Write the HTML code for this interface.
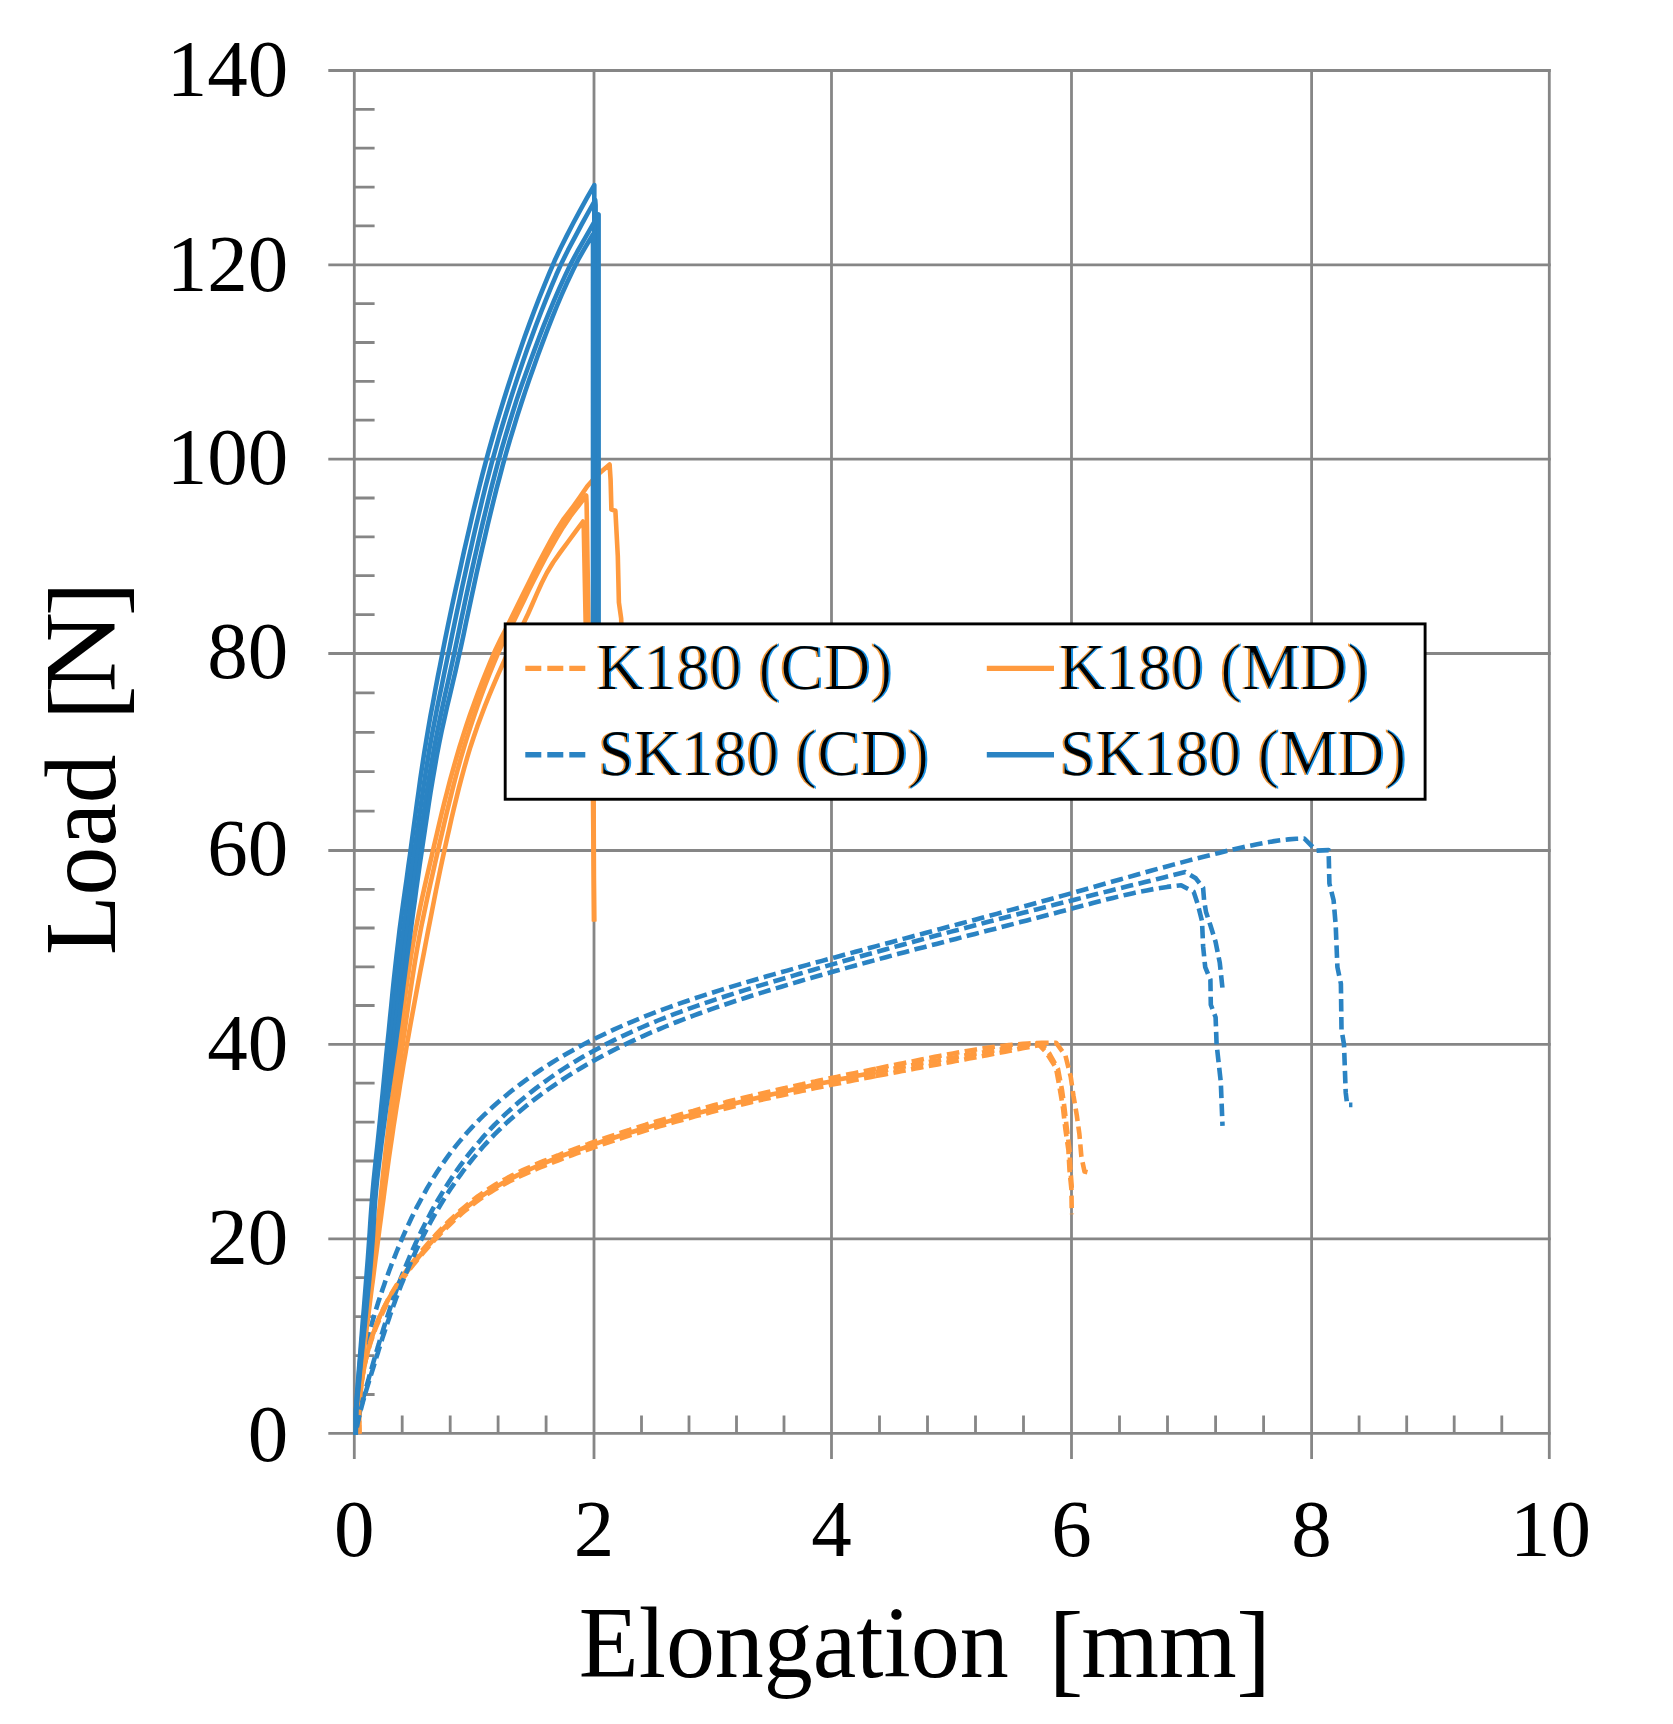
<!DOCTYPE html>
<html lang="en">
<head>
<meta charset="utf-8">
<title>Load vs Elongation</title>
<style>
html,body{margin:0;padding:0;background:#fff;}
body{width:1673px;height:1724px;overflow:hidden;}
svg{display:block;}
</style>
</head>
<body>
<svg width="1673" height="1724" viewBox="0 0 1673 1724">
<rect width="1673" height="1724" fill="#fff"/>
<defs><filter id="ct" x="-2%" y="-20%" width="104%" height="140%" color-interpolation-filters="sRGB"><feOffset in="SourceAlpha" dx="-1.2" result="l"/><feFlood flood-color="#f39532" result="oc"/><feComposite in="oc" in2="l" operator="in" result="lc"/><feOffset in="SourceAlpha" dx="1.2" result="r"/><feFlood flood-color="#1b93e6" result="bc"/><feComposite in="bc" in2="r" operator="in" result="rc"/><feMorphology in="SourceAlpha" operator="erode" radius="0.9 0" result="core"/><feMerge><feMergeNode in="lc"/><feMergeNode in="rc"/><feMergeNode in="core"/></feMerge></filter></defs>
<g stroke="#868686" stroke-width="2.8" fill="none">
<path d="M328.3 1433.4 H1550.7"/>
<path d="M328.3 1238.8 H1550.7"/>
<path d="M328.3 1044.3 H1550.7"/>
<path d="M328.3 850.5 H1550.7"/>
<path d="M328.3 653.5 H1550.7"/>
<path d="M328.3 459.1 H1550.7"/>
<path d="M328.3 264.8 H1550.7"/>
<path d="M328.3 70.5 H1550.7"/>
<path d="M354.3 69.1 V1459"/>
<path d="M594 69.1 V1459"/>
<path d="M831.5 69.1 V1459"/>
<path d="M1071.5 69.1 V1459"/>
<path d="M1311.6 69.1 V1459"/>
<path d="M1549.3 69.1 V1459"/>
<path d="M354.3 1394.5h20.3M354.3 1355.6h20.3M354.3 1316.6h20.3M354.3 1277.7h20.3M354.3 1199.9h20.3M354.3 1161h20.3M354.3 1122.1h20.3M354.3 1083.2h20.3M354.3 1005.5h20.3M354.3 966.8h20.3M354.3 928h20.3M354.3 889.3h20.3M354.3 811.1h20.3M354.3 771.7h20.3M354.3 732.3h20.3M354.3 692.9h20.3M354.3 614.6h20.3M354.3 575.7h20.3M354.3 536.9h20.3M354.3 498h20.3M354.3 420.2h20.3M354.3 381.4h20.3M354.3 342.5h20.3M354.3 303.7h20.3M354.3 225.9h20.3M354.3 187.1h20.3M354.3 148.2h20.3M354.3 109.4h20.3"/>
<path d="M402.2 1433.4v-18M450.2 1433.4v-18M498.1 1433.4v-18M546.1 1433.4v-18M641.5 1433.4v-18M689 1433.4v-18M736.5 1433.4v-18M784 1433.4v-18M879.5 1433.4v-18M927.5 1433.4v-18M975.5 1433.4v-18M1023.5 1433.4v-18M1119.5 1433.4v-18M1167.5 1433.4v-18M1215.6 1433.4v-18M1263.6 1433.4v-18M1359.1 1433.4v-18M1406.7 1433.4v-18M1454.2 1433.4v-18M1501.8 1433.4v-18"/>
</g>
<g fill="none" stroke-width="4.6" stroke-linejoin="round">
<path stroke="#ff9a3e" d="M359.4 1433.4L359.4 1432.7L359.3 1431.7L359.3 1430.5L359.3 1429.2L359.3 1427.8L359.2 1426.3L359.2 1424.7L359.2 1423L359.2 1421.3L359.2 1419.5L359.2 1417.7L359.3 1415.8L359.3 1413.9L359.4 1411.9L359.5 1409.8L359.5 1407.8L359.7 1405.7L359.8 1403.5L359.9 1401.4L360.1 1399.2L360.2 1396.9L360.4 1394.6L360.7 1392.3L360.9 1390L361.1 1387.7L361.4 1385.3L361.7 1382.9L362.1 1380.4L362.4 1378L362.8 1375.5L363.2 1373L363.6 1370.5L364.1 1368L364.6 1365.4L365.1 1362.9L365.7 1360.3L366.3 1357.7L366.9 1355.1L367.5 1352.5L368.2 1349.8L368.9 1347.2L369.7 1344.5L370.4 1341.9L371.3 1339.2L372.1 1336.5L373 1333.9L374 1331.2L374.9 1328.5L376 1325.8L377 1323.1L378.1 1320.4L379.3 1317.8L380.4 1315.1L381.7 1312.4L383 1309.7L384.3 1307L385.7 1304.4L387.1 1301.7L388.5 1299.1L390.1 1296.4L391.6 1293.8L393.3 1291.2L394.9 1288.6L396.6 1286L398.4 1283.4L400.2 1280.8L402.1 1278.2L404 1275.6L405.9 1273.1L407.9 1270.5L409.9 1267.9L411.9 1265.4L413.9 1262.8L416 1260.3L418.1 1257.7L420.3 1255.1L422.4 1252.5L424.6 1250L426.8 1247.4L429 1244.8L431.3 1242.2L433.5 1239.6L435.8 1237.1L438.1 1234.5L440.4 1231.9L442.8 1229.4L445.2 1226.9L447.7 1224.4L450.1 1222L452.6 1219.5L455.2 1217.1L457.7 1214.8L460.4 1212.5L463 1210.2L465.7 1207.9L468.5 1205.8L471.2 1203.6L474.1 1201.5L476.9 1199.4L479.8 1197.3L482.7 1195.3L485.7 1193.4L488.7 1191.4L491.7 1189.5L494.8 1187.7L497.9 1185.8L501 1184L504.2 1182.2L507.4 1180.5L510.6 1178.8L513.9 1177.1L517.2 1175.4L520.5 1173.8L523.8 1172.2L527.2 1170.6L530.6 1169L534 1167.5L537.4 1166L540.9 1164.5L544.4 1163L547.9 1161.6L551.4 1160.1L555 1158.7L558.5 1157.3L562.1 1155.9L565.7 1154.5L569.3 1153.1L572.9 1151.8L576.6 1150.4L580.2 1149.1L583.9 1147.8L587.6 1146.5L591.3 1145.2L595 1143.9L598.8 1142.7L602.5 1141.4L606.3 1140.2L610.1 1138.9L613.9 1137.7L617.7 1136.5L621.5 1135.3L625.3 1134.1L629.2 1132.9L633 1131.7L636.9 1130.5L640.8 1129.4L644.6 1128.2L648.5 1127.1L652.4 1125.9L656.3 1124.8L660.3 1123.6L664.2 1122.5L668.1 1121.4L672.1 1120.3L676 1119.2L680 1118.1L684 1116.9L687.9 1115.9L691.9 1114.8L695.9 1113.7L699.9 1112.6L703.9 1111.5L708 1110.5L712 1109.4L716 1108.3L720.1 1107.3L724.1 1106.2L728.2 1105.2L732.3 1104.2L736.4 1103.1L740.5 1102.1L744.6 1101.1L748.7 1100.1L752.8 1099.1L756.9 1098.1L761.1 1097.1L765.2 1096.1L769.3 1095.1L773.5 1094.1L777.7 1093.2L781.8 1092.2L786 1091.2L790.2 1090.3L794.4 1089.3L798.6 1088.4L802.8 1087.4L807.1 1086.5L811.3 1085.5L815.5 1084.6L819.8 1083.7L824.1 1082.8L828.3 1081.9L832.6 1081L836.9 1080L841.2 1079.1L845.5 1078.2L849.8 1077.4L854.1 1076.5L858.4 1075.6L862.7 1074.7L867.1 1073.8L871.4 1073L875.8 1072.1"/>
<path stroke="#ff9a3e" stroke-dasharray="12.5 5.5" stroke-dashoffset="0" d="M875.8 1072.1L880.1 1071.2L884.5 1070.4L888.9 1069.5L893.3 1068.7L897.6 1067.8L902 1067L906.4 1066.2L910.9 1065.3L915.3 1064.5L919.7 1063.7L924.2 1062.9L928.6 1062L933.1 1061.2L937.5 1060.4L942 1059.6L946.5 1058.8L950.9 1058L955.4 1057.2L959.9 1056.4L964.4 1055.6L969 1054.8L973.5 1054L978 1053.3L982.6 1052.5L987.1 1051.7L991.7 1050.9L996.2 1050.1L1000.8 1049.4L1005.4 1048.6L1009.9 1047.8L1014.5 1047.1L1019.1 1046.3L1023.7 1045.6L1028.4 1044.8L1033 1044.1L1037.6 1043.3L1046 1052L1056 1068L1060 1090L1063 1108L1065.5 1130L1068.4 1150L1069.5 1170L1071.4 1189L1071.8 1214.2"/>
<path stroke="#ff9a3e" d="M355.7 1433.4L355.9 1422.5L356.2 1411.6L357.1 1400.7L358.4 1389.8L359.6 1379L360.8 1368.1L362.1 1357.2L363.3 1346.3L364.6 1335.4L365.9 1324.5L367.3 1313.6L368.6 1302.7L369.9 1291.9L371.2 1281L372.6 1270.1L373.9 1259.2L375.1 1248.3L376.4 1237.4L377.6 1226.5L378.7 1215.6L379.9 1204.8L381 1193.9L382.2 1183L383.3 1172.1L384.5 1161.2L385.7 1150.3L387 1139.4L388.3 1128.5L389.6 1117.7L390.9 1106.8L392.3 1095.9L393.7 1085L395.1 1074.1L396.5 1063.2L397.9 1052.3L399.4 1041.4L400.8 1030.6L402.2 1019.7L403.6 1008.8L405 997.9L406.5 987L408 976.1L409.6 965.2L411.3 954.3L413.1 943.5L415.1 932.6L417.2 921.7L419.4 910.8L421.7 899.9L424.1 889L426.6 878.1L429.1 867.2L431.6 856.4L434.1 845.5L436.7 834.6L439.2 823.7L441.8 812.8L444.5 801.9L447.3 791L450.1 780.1L453.1 769.3L456.2 758.4L459.4 747.5L462.8 736.6L466.3 725.7L470 714.8L473.9 703.9L477.9 693L482 682.2L486.4 671.3L490.9 660.4L495.6 649.5L500.9 638.6L506.5 627.7L511.9 616.8L517.2 605.9L522.6 595.1L528 584.2L533.4 573.3L539 562.4L544.7 551.5L550.6 540.6L556.8 529.7L563.8 518.8L572.1 508L579.9 497.1L587.3 486.2L597 475.3L609.6 464.4L610.6 480L611.4 509.6L615.4 510.8L617.8 556L618.9 602.5L621.2 618.7L621.5 640"/>
<path stroke="#2a83c3" stroke-dasharray="12.5 5.5" stroke-dashoffset="0" d="M355.7 1433.4L355.7 1432.1L355.7 1430.2L355.8 1428.1L355.8 1425.7L355.9 1423.1L356 1420.3L356.1 1417.4L356.3 1414.4L356.5 1411.3L356.7 1408L356.9 1404.7L357.2 1401.3L357.6 1397.9L357.9 1394.3L358.3 1390.7L358.8 1387L359.3 1383.3L359.8 1379.5L360.4 1375.6L361.1 1371.7L361.8 1367.7L362.5 1363.7L363.3 1359.6L364.1 1355.5L365 1351.4L365.9 1347.2L366.9 1343L367.9 1338.7L369 1334.4L370.1 1330.1L371.3 1325.7L372.5 1321.3L373.8 1316.8L375.1 1312.4L376.5 1307.9L377.9 1303.3L379.4 1298.8L380.9 1294.2L382.5 1289.5L384.1 1284.9L385.7 1280.2L387.5 1275.5L389.2 1270.7L391 1266L392.9 1261.2L394.8 1256.3L396.7 1251.5L398.7 1246.7L400.7 1241.8L402.8 1236.9L405 1232L407.2 1227.1L409.5 1222.2L411.8 1217.3L414.2 1212.4L416.7 1207.4L419.3 1202.6L421.9 1197.7L424.6 1192.8L427.3 1187.9L430.2 1183.1L433.1 1178.3L436.1 1173.5L439.2 1168.7L442.4 1164L445.7 1159.4L449.1 1154.7L452.6 1150.1L456.1 1145.6L459.8 1141.1L463.6 1136.6L467.4 1132.2L471.4 1127.9L475.5 1123.6L479.6 1119.4L483.9 1115.2L488.2 1111.1L492.6 1107L497.1 1103L501.7 1099.1L506.4 1095.2L511.1 1091.3L515.9 1087.5L520.8 1083.8L525.8 1080.1L530.8 1076.5L536 1073L541.1 1069.5L546.4 1066.1L551.7 1062.7L557.1 1059.4L562.5 1056.2L568 1053L573.5 1049.9L579.1 1046.8L584.7 1043.8L590.4 1040.9L596.2 1038L602 1035.2L607.8 1032.4L613.7 1029.7L619.6 1027L625.6 1024.4L631.7 1021.8L637.7 1019.3L643.9 1016.8L650 1014.4L656.2 1012L662.5 1009.7L668.8 1007.4L675.1 1005.1L681.4 1002.9L687.8 1000.7L694.2 998.5L700.7 996.4L707.2 994.2L713.7 992.2L720.3 990.1L726.8 988.1L733.4 986.1L740.1 984.1L746.7 982.1L753.4 980.2L760.1 978.2L766.8 976.3L773.5 974.4L780.3 972.5L787.1 970.6L793.8 968.7L800.6 966.8L807.4 964.9L814.2 963L821.1 961.1L827.9 959.2L834.8 957.4L841.7 955.5L848.6 953.6L855.5 951.7L862.4 949.9L869.3 948L876.3 946.1L883.3 944.2L890.2 942.4L897.2 940.5L904.2 938.6L911.3 936.7L918.3 934.9L925.3 933L932.4 931.1L939.5 929.2L946.6 927.3L953.7 925.4L960.8 923.5L967.9 921.6L975.1 919.7L982.2 917.7L989.4 915.8L996.6 913.9L1003.8 911.9L1011 909.9L1018.2 908L1025.5 906L1032.7 904L1040 902L1047.3 900L1054.6 898L1061.9 895.9L1069.2 893.9L1076.6 891.8L1083.9 889.7L1091.3 887.6L1098.7 885.5L1106.1 883.4L1113.5 881.3L1120.9 879.2L1128.4 877.1L1135.8 875L1143.3 872.9L1150.8 870.8L1158.3 868.7L1165.8 866.7L1173.3 864.6L1180.9 862.6L1188.4 860.6L1196 858.6L1203.6 856.7L1211.2 854.8L1218.8 852.9L1226.4 851L1234.1 849.2L1241.8 847.5L1249.4 845.8L1257.2 844.2L1264.9 842.7L1272.7 841.4L1280.5 840.3L1288.4 839.4L1296.3 838.8L1304.3 838.5L1310.6 844.9L1316.2 850.6L1328.6 850.1L1329.4 883.5L1333.6 900.3L1335.7 925.3L1337.4 967.1L1340.9 983.8L1341.5 1029.7L1344 1044.4L1345.7 1092.4L1347.2 1104.9L1352.4 1104.9"/>
<path stroke="#2a83c3" d="M355.6 1434.6L355.7 1422L356 1409.4L356.9 1396.7L357.8 1384.1L358.8 1371.5L359.8 1358.9L360.8 1346.3L361.8 1333.6L362.8 1321L363.9 1308.4L364.9 1295.8L365.9 1283.1L366.9 1270.5L367.9 1257.9L368.8 1245.3L369.7 1232.7L370.5 1220L371.4 1207.4L372.4 1194.8L373.5 1182.2L374.8 1169.6L376.1 1156.9L377.5 1144.3L378.8 1131.7L380.1 1119.1L381.3 1106.4L382.6 1093.8L383.8 1081.2L385 1068.6L386.2 1056L387.5 1043.3L388.8 1030.7L390 1018.1L391.3 1005.5L392.5 992.9L393.8 980.2L395.2 967.6L396.6 955L398.1 942.4L399.6 929.8L401.3 917.1L403 904.5L404.8 891.9L406.6 879.3L408.3 866.6L410.1 854L411.8 841.4L413.5 828.8L415.2 816.2L416.9 803.5L418.7 790.9L420.4 778.3L422.3 765.7L424.2 753.1L426.3 740.4L428.4 727.8L430.6 715.2L433 702.6L435.3 689.9L437.7 677.3L440.2 664.7L442.6 652.1L445.1 639.5L447.7 626.8L450.3 614.2L453 601.6L455.7 589L458.5 576.4L461.3 563.7L464.1 551.1L467 538.5L469.9 525.9L472.8 513.3L475.9 500.6L479 488L482.2 475.4L485.5 462.8L488.9 450.1L492.5 437.5L496.1 424.9L499.9 412.3L503.8 399.7L507.8 387L511.9 374.4L516.1 361.8L520.4 349.2L524.8 336.6L529.4 323.9L534.1 311.3L538.9 298.7L544 286.1L549.2 273.4L554.6 260.8L560.5 248.2L566.8 235.6L573.3 223L580.1 210.3L587.1 197.7L594.3 185.1L594.3 190.1L594.3 700"/>
<path stroke="#ff9a3e" stroke-dasharray="12.5 5.5" stroke-dashoffset="4" d="M359.4 1433.6L359.4 1432.9L359.3 1431.9L359.2 1430.6L359.2 1429.3L359.1 1427.8L359.1 1426.3L359 1424.7L359 1423L359 1421.3L358.9 1419.5L358.9 1417.6L359 1415.7L359 1413.7L359 1411.7L359.1 1409.7L359.2 1407.6L359.3 1405.5L359.4 1403.3L359.5 1401.2L359.7 1398.9L359.8 1396.7L360 1394.4L360.3 1392.1L360.5 1389.8L360.8 1387.4L361.1 1385.1L361.4 1382.6L361.8 1380.2L362.2 1377.8L362.6 1375.3L363 1372.8L363.5 1370.3L364 1367.8L364.5 1365.3L365.1 1362.7L365.7 1360.2L366.3 1357.6L367 1355L367.7 1352.4L368.4 1349.8L369.2 1347.2L370 1344.6L370.8 1341.9L371.7 1339.3L372.6 1336.7L373.5 1334L374.5 1331.3L375.5 1328.7L376.6 1326L377.7 1323.3L378.9 1320.7L380.1 1318L381.3 1315.3L382.6 1312.7L383.9 1310L385.2 1307.3L386.6 1304.6L388.1 1302L389.6 1299.3L391.1 1296.7L392.7 1294L394.3 1291.4L396 1288.8L397.7 1286.1L399.4 1283.5L401.2 1280.9L403.1 1278.3L405 1275.7L406.9 1273.1L408.8 1270.5L410.8 1267.9L412.8 1265.3L414.9 1262.7L417 1260.2L419.1 1257.6L421.3 1255L423.4 1252.5L425.7 1249.9L427.9 1247.4L430.2 1244.9L432.5 1242.3L434.8 1239.8L437.2 1237.3L439.5 1234.8L441.9 1232.3L444.4 1229.9L446.8 1227.4L449.3 1225L451.9 1222.6L454.4 1220.2L457 1217.8L459.6 1215.4L462.3 1213.1L465 1210.8L467.7 1208.6L470.4 1206.4L473.2 1204.2L476.1 1202L478.9 1199.9L481.8 1197.9L484.8 1195.9L487.8 1193.9L490.8 1192L493.9 1190.1L497 1188.3L500.1 1186.5L503.3 1184.7L506.5 1183L509.7 1181.3L513 1179.7L516.3 1178L519.6 1176.4L523 1174.9L526.4 1173.3L529.8 1171.8L533.2 1170.4L536.7 1168.9L540.2 1167.4L543.7 1166L547.2 1164.6L550.8 1163.2L554.3 1161.8L557.9 1160.5L561.5 1159.1L565.1 1157.8L568.7 1156.4L572.3 1155.1L576 1153.7L579.7 1152.4L583.3 1151.1L587 1149.8L590.7 1148.5L594.4 1147.2L598.2 1145.9L601.9 1144.6L605.6 1143.4L609.4 1142.1L613.2 1140.9L617 1139.6L620.8 1138.4L624.6 1137.1L628.4 1135.9L632.2 1134.7L636.1 1133.5L640 1132.3L643.8 1131.1L647.7 1129.9L651.6 1128.8L655.5 1127.6L659.4 1126.4L663.4 1125.3L667.3 1124.1L671.2 1123L675.2 1121.9L679.2 1120.8L683.2 1119.7L687.1 1118.6L691.1 1117.5L695.1 1116.4L699.2 1115.3L703.2 1114.2L707.2 1113.2L711.3 1112.1L715.3 1111.1L719.4 1110L723.5 1109L727.6 1108L731.7 1107L735.8 1106L739.9 1105L744 1104L748.1 1103L752.2 1102L756.4 1101.1L760.5 1100.1L764.7 1099.1L768.9 1098.2L773 1097.3L777.2 1096.3L781.4 1095.4L785.6 1094.5L789.8 1093.5L794.1 1092.6L798.3 1091.7L802.5 1090.8L806.8 1089.9L811 1089L815.3 1088.1L819.5 1087.3L823.8 1086.4L828.1 1085.5L832.4 1084.6L836.7 1083.8L841 1082.9L845.3 1082L849.6 1081.2L854 1080.3L858.3 1079.5L862.6 1078.6L867 1077.8L871.3 1076.9L875.7 1076.1"/>
<path stroke="#ff9a3e" stroke-dasharray="12.5 5.5" stroke-dashoffset="0" d="M875.7 1076.1L880.1 1075.3L884.5 1074.4L888.9 1073.6L893.2 1072.8L897.6 1071.9L902.1 1071.1L906.5 1070.3L910.9 1069.4L915.3 1068.6L919.8 1067.8L924.2 1066.9L928.7 1066.1L933.1 1065.3L937.6 1064.4L942.1 1063.6L946.5 1062.8L951 1061.9L955.5 1061.1L960 1060.3L964.5 1059.4L969 1058.6L973.5 1057.7L978.1 1056.9L982.6 1056L987.1 1055.2L991.7 1054.3L996.2 1053.4L1000.8 1052.6L1005.3 1051.7L1009.9 1050.8L1014.5 1049.9L1019 1049L1023.6 1048.1L1028.2 1047.2L1032.8 1046.3L1037.4 1045.4L1042 1044.5L1049 1053L1058 1069L1062 1090L1064.5 1108L1067 1130L1069.5 1150L1070.5 1170L1071.6 1185L1072 1192"/>
<path stroke="#ff9a3e" d="M355.8 1433.4L356 1422.9L356.4 1412.3L357.3 1401.8L358.6 1391.2L359.7 1380.7L361 1370.2L362.2 1359.6L363.5 1349.1L364.7 1338.6L366.1 1328L367.4 1317.5L368.7 1306.9L370 1296.4L371.4 1285.9L372.7 1275.3L374 1264.8L375.3 1254.3L376.6 1243.7L377.9 1233.2L379.1 1222.6L380.4 1212.1L381.6 1201.6L382.8 1191L384 1180.5L385.3 1169.9L386.6 1159.4L387.9 1148.9L389.2 1138.3L390.6 1127.8L392.1 1117.3L393.5 1106.7L395 1096.2L396.5 1085.6L398.1 1075.1L399.6 1064.6L401.2 1054L402.7 1043.5L404.3 1032.9L405.8 1022.4L407.3 1011.9L408.8 1001.3L410.4 990.8L412 980.3L413.7 969.7L415.4 959.2L417.2 948.6L419.1 938.1L421.1 927.6L423.3 917L425.5 906.5L427.7 896L430 885.4L432.4 874.9L434.8 864.3L437.2 853.8L439.6 843.3L442.1 832.7L444.5 822.2L447 811.6L449.6 801.1L452.2 790.6L454.9 780L457.7 769.5L460.6 759L463.7 748.4L466.9 737.9L470.3 727.3L473.8 716.8L477.4 706.3L481.2 695.7L485.1 685.2L489.2 674.6L493.5 664.1L497.9 653.6L502.7 643L508 632.5L513.4 622L518.5 611.4L523.7 600.9L528.8 590.3L534.1 579.8L539.5 569.3L545 558.7L550.8 548.2L556.8 537.7L563.1 527.1L570.1 516.6L578.2 506L586.2 495.5L586.6 503L588.4 620L593.6 798L594.1 921.5"/>
<path stroke="#2a83c3" stroke-dasharray="12.5 5.5" stroke-dashoffset="6" d="M355.7 1433.4L355.9 1432.3L356.1 1430.7L356.4 1428.9L356.8 1426.8L357.2 1424.6L357.6 1422.2L358.1 1419.8L358.7 1417.2L359.3 1414.5L359.9 1411.8L360.6 1409L361.3 1406L362 1403.1L362.8 1400L363.6 1396.9L364.5 1393.7L365.3 1390.5L366.3 1387.2L367.2 1383.9L368.2 1380.5L369.1 1377L370.1 1373.5L371.2 1370L372.2 1366.4L373.2 1362.8L374.3 1359.1L375.4 1355.4L376.5 1351.6L377.6 1347.8L378.8 1344L379.9 1340.1L381.1 1336.2L382.4 1332.2L383.6 1328.3L384.9 1324.3L386.2 1320.2L387.5 1316.2L388.8 1312.1L390.2 1307.9L391.6 1303.8L393.1 1299.6L394.6 1295.4L396.1 1291.2L397.6 1287L399.2 1282.7L400.8 1278.4L402.5 1274.1L404.2 1269.8L406 1265.5L407.8 1261.2L409.6 1256.8L411.5 1252.5L413.4 1248.1L415.4 1243.8L417.4 1239.4L419.5 1235L421.6 1230.6L423.8 1226.2L426 1221.9L428.3 1217.5L430.6 1213.1L433 1208.7L435.4 1204.4L437.9 1200L440.5 1195.7L443.1 1191.4L445.8 1187L448.5 1182.7L451.3 1178.4L454.2 1174.2L457.2 1169.9L460.2 1165.7L463.3 1161.5L466.4 1157.3L469.6 1153.1L473 1149L476.3 1144.9L479.8 1140.9L483.3 1136.8L486.9 1132.8L490.6 1128.9L494.4 1124.9L498.3 1121.1L502.2 1117.2L506.2 1113.4L510.3 1109.7L514.4 1106L518.6 1102.3L522.9 1098.7L527.3 1095.1L531.7 1091.6L536.1 1088.1L540.7 1084.7L545.3 1081.3L549.9 1078L554.6 1074.7L559.3 1071.5L564.1 1068.4L569 1065.3L573.9 1062.2L578.8 1059.3L583.8 1056.3L588.8 1053.5L593.9 1050.7L599 1047.9L604.1 1045.2L609.3 1042.5L614.6 1039.9L619.9 1037.3L625.2 1034.8L630.6 1032.3L636 1029.9L641.4 1027.5L646.9 1025.1L652.4 1022.8L657.9 1020.5L663.5 1018.3L669.2 1016.1L674.8 1013.9L680.5 1011.8L686.2 1009.7L692 1007.6L697.7 1005.6L703.5 1003.6L709.4 1001.6L715.2 999.6L721.1 997.7L727.1 995.8L733 993.9L739 992L744.9 990.1L750.9 988.3L757 986.4L763 984.6L769.1 982.8L775.2 981L781.3 979.2L787.4 977.4L793.5 975.6L799.6 973.8L805.8 972L812 970.2L818.1 968.4L824.3 966.6L830.5 964.9L836.8 963.1L843 961.3L849.3 959.5L855.5 957.8L861.8 956L868.1 954.2L874.4 952.5L880.8 950.7L887.1 949L893.4 947.2L899.8 945.5L906.2 943.8L912.6 942L919 940.3L925.4 938.5L931.8 936.8L938.3 935.1L944.7 933.4L951.2 931.6L957.7 929.9L964.2 928.2L970.7 926.5L977.2 924.8L983.7 923L990.3 921.3L996.9 919.6L1003.4 917.9L1010 916.2L1016.6 914.5L1023.2 912.8L1029.8 911.1L1036.5 909.4L1043.1 907.7L1049.8 906L1056.4 904.3L1063.1 902.6L1069.8 900.9L1076.5 899.2L1083.2 897.5L1090 895.8L1096.7 894.1L1103.4 892.4L1110.2 890.7L1117 889L1123.8 887.3L1130.6 885.6L1137.4 884L1144.2 882.3L1151 880.6L1157.8 878.9L1164.7 877.2L1171.5 875.5L1178.4 873.8L1185.3 872.1L1195.8 878.3L1203.1 887.7L1204.1 900.3L1206 912L1210.4 925.3L1215.6 942L1219.8 962.9L1222.9 992.2"/>
<path stroke="#2a83c3" d="M355.7 1434.6L355.8 1422.1L356.1 1409.7L357 1397.2L358.1 1384.7L359.1 1372.2L360.2 1359.8L361.3 1347.3L362.4 1334.8L363.5 1322.4L364.6 1309.9L365.7 1297.4L366.8 1285L367.9 1272.5L368.9 1260L369.8 1247.5L370.8 1235.1L371.5 1222.6L372.3 1210.1L373.3 1197.7L374.4 1185.2L375.7 1172.7L377 1160.2L378.5 1147.8L379.9 1135.3L381.3 1122.8L382.7 1110.4L384.1 1097.9L385.5 1085.4L387 1072.9L388.4 1060.5L389.8 1048L391.3 1035.5L392.7 1023.1L394 1010.6L395.4 998.1L396.8 985.7L398.2 973.2L399.7 960.7L401.2 948.2L402.8 935.8L404.4 923.3L406.1 910.8L407.8 898.4L409.5 885.9L411.3 873.4L413 860.9L414.8 848.5L416.6 836L418.3 823.5L420 811.1L421.8 798.6L423.6 786.1L425.5 773.7L427.5 761.2L429.5 748.7L431.7 736.2L434.1 723.8L436.5 711.3L439 698.8L441.6 686.4L444.1 673.9L446.7 661.4L449.3 648.9L451.8 636.5L454.4 624L457 611.5L459.7 599.1L462.3 586.6L465.1 574.1L467.8 561.7L470.7 549.2L473.5 536.7L476.4 524.2L479.4 511.8L482.4 499.3L485.5 486.8L488.7 474.4L492 461.9L495.5 449.4L499 436.9L502.7 424.5L506.5 412L510.4 399.5L514.4 387.1L518.5 374.6L522.8 362.1L527.1 349.6L531.6 337.2L536.2 324.7L541 312.2L545.9 299.8L551 287.3L556.3 274.8L561.9 262.4L568.1 249.9L574.8 237.4L581.4 224.9L588.2 212.5L595.2 200L595.6 205L595.6 700"/>
<path stroke="#ff9a3e" stroke-dasharray="12.5 5.5" stroke-dashoffset="0" d="M359.4 1433.2L359.4 1432.5L359.3 1431.4L359.3 1430.2L359.3 1428.9L359.2 1427.4L359.2 1425.9L359.2 1424.2L359.2 1422.5L359.2 1420.8L359.2 1418.9L359.2 1417.1L359.2 1415.1L359.3 1413.1L359.3 1411.1L359.4 1409L359.5 1406.9L359.6 1404.8L359.7 1402.6L359.9 1400.3L360 1398.1L360.2 1395.8L360.4 1393.4L360.6 1391.1L360.9 1388.7L361.1 1386.3L361.4 1383.8L361.7 1381.4L362.1 1378.9L362.4 1376.4L362.8 1373.9L363.3 1371.3L363.7 1368.7L364.2 1366.2L364.7 1363.6L365.3 1360.9L365.9 1358.3L366.5 1355.7L367.1 1353L367.8 1350.3L368.5 1347.7L369.3 1345L370.1 1342.3L370.9 1339.6L371.8 1336.9L372.7 1334.2L373.7 1331.5L374.7 1328.8L375.7 1326L376.8 1323.3L378 1320.6L379.1 1317.9L380.3 1315.1L381.6 1312.4L382.9 1309.7L384.2 1307L385.6 1304.2L387 1301.5L388.5 1298.8L390 1296.1L391.6 1293.4L393.2 1290.6L394.8 1287.9L396.5 1285.2L398.2 1282.5L400 1279.9L401.8 1277.2L403.7 1274.5L405.6 1271.8L407.5 1269.1L409.5 1266.5L411.5 1263.8L413.5 1261.2L415.6 1258.5L417.7 1255.9L419.8 1253.2L422 1250.6L424.2 1248L426.5 1245.3L428.7 1242.7L431 1240.1L433.4 1237.5L435.7 1234.9L438.1 1232.4L440.5 1229.8L443 1227.3L445.4 1224.7L447.9 1222.2L450.5 1219.7L453 1217.3L455.6 1214.8L458.3 1212.4L460.9 1210L463.7 1207.7L466.4 1205.4L469.2 1203.1L472 1200.8L474.9 1198.6L477.7 1196.4L480.7 1194.3L483.7 1192.2L486.7 1190.2L489.7 1188.2L492.8 1186.3L496 1184.3L499.1 1182.5L502.3 1180.7L505.6 1178.9L508.9 1177.1L512.2 1175.4L515.5 1173.7L518.9 1172.1L522.3 1170.4L525.7 1168.8L529.2 1167.3L532.7 1165.7L536.2 1164.2L539.7 1162.7L543.3 1161.2L546.8 1159.8L550.4 1158.3L554.1 1156.9L557.7 1155.5L561.3 1154L565 1152.6L568.7 1151.2L572.4 1149.8L576.1 1148.5L579.8 1147.1L583.5 1145.7L587.3 1144.4L591 1143L594.8 1141.7L598.6 1140.3L602.4 1139L606.2 1137.7L610 1136.4L613.9 1135.1L617.7 1133.8L621.6 1132.5L625.5 1131.2L629.4 1130L633.3 1128.7L637.2 1127.4L641.1 1126.2L645.1 1125L649 1123.7L653 1122.5L657 1121.3L660.9 1120.1L664.9 1118.9L669 1117.8L673 1116.6L677 1115.4L681 1114.3L685.1 1113.1L689.1 1112L693.2 1110.9L697.3 1109.7L701.4 1108.6L705.5 1107.5L709.6 1106.4L713.7 1105.3L717.8 1104.3L722 1103.2L726.1 1102.1L730.2 1101.1L734.4 1100L738.6 1099L742.7 1098L746.9 1097L751.1 1096L755.3 1094.9L759.5 1093.9L763.7 1093L768 1092L772.2 1091L776.4 1090L780.7 1089L785 1088.1L789.2 1087.1L793.5 1086.2L797.8 1085.2L802.1 1084.3L806.4 1083.3L810.7 1082.4L815 1081.5L819.3 1080.5L823.7 1079.6L828 1078.7L832.4 1077.8L836.7 1076.9L841.1 1075.9L845.5 1075L849.9 1074.1L854.3 1073.2L858.7 1072.3L863.1 1071.4L867.5 1070.5L871.9 1069.6L876.4 1068.7"/>
<path stroke="#ff9a3e" stroke-dasharray="12.5 5.5" stroke-dashoffset="0" d="M876.4 1068.7L880.8 1067.8L885.3 1066.8L889.7 1065.9L894.2 1065L898.7 1064.1L903.2 1063.2L907.7 1062.3L912.2 1061.4L916.7 1060.4L921.2 1059.5L925.8 1058.6L930.3 1057.7L934.8 1056.8L939.4 1055.9L944 1055.1L948.5 1054.2L953.1 1053.4L957.7 1052.5L962.3 1051.7L966.9 1050.9L971.5 1050.2L976.2 1049.4L980.8 1048.7L985.4 1048L990.1 1047.4L994.7 1046.8L999.4 1046.2L1004.1 1045.7L1008.8 1045.1L1013.4 1044.7L1018.1 1044.3L1022.8 1043.9L1027.6 1043.6L1032.3 1043.3L1037 1043L1041.7 1042.9L1046.5 1042.8L1051.2 1042.7L1056 1042.7L1065.4 1055.4L1070.7 1076.7L1073.4 1095.4L1076.8 1115.4L1079.4 1134.1L1081.4 1156.8L1084.5 1171.5L1089.4 1172.8"/>
<path stroke="#ff9a3e" d="M355.9 1433.4L356.1 1423.2L356.6 1412.9L357.5 1402.7L358.8 1392.4L360 1382.2L361.3 1371.9L362.5 1361.7L363.8 1351.4L365 1341.2L366.3 1330.9L367.6 1320.7L368.9 1310.4L370.2 1300.2L371.5 1290L372.9 1279.7L374.2 1269.5L375.5 1259.2L376.9 1249L378.2 1238.7L379.5 1228.5L380.9 1218.2L382.2 1208L383.6 1197.7L384.9 1187.5L386.3 1177.2L387.7 1167L389.1 1156.8L390.6 1146.5L392.1 1136.3L393.6 1126L395.2 1115.8L396.8 1105.5L398.5 1095.3L400.1 1085L401.8 1074.8L403.5 1064.5L405.3 1054.3L407 1044L408.8 1033.8L410.6 1023.6L412.5 1013.3L414.4 1003.1L416.3 992.8L418.2 982.6L420.1 972.3L422.1 962.1L424.1 951.8L426 941.6L428 931.3L430 921.1L432 910.9L434 900.6L436 890.4L438.1 880.1L440.2 869.9L442.4 859.6L444.6 849.4L446.9 839.1L449.2 828.9L451.5 818.6L453.9 808.4L456.4 798.1L458.9 787.9L461.6 777.7L464.4 767.4L467.3 757.2L470.4 746.9L473.8 736.7L477.3 726.4L481.1 716.2L485 705.9L489.1 695.7L493.4 685.4L497.8 675.2L502.4 664.9L507 654.7L512.1 644.5L517.7 634.2L523.2 624L528.1 613.7L532.6 603.5L537.1 593.2L541.7 583L546.9 572.7L553.1 562.5L560.4 552.2L567.9 542L575.5 531.7L583 521.5L583.8 529L585.6 620L593 798L594.1 921.5"/>
<path stroke="#2a83c3" stroke-dasharray="12.5 5.5" stroke-dashoffset="12" d="M355.8 1433.4L356 1432.3L356.2 1430.8L356.6 1428.9L356.9 1426.9L357.4 1424.7L357.8 1422.4L358.4 1420L358.9 1417.4L359.6 1414.8L360.2 1412.1L360.9 1409.3L361.7 1406.4L362.5 1403.5L363.3 1400.5L364.2 1397.4L365.1 1394.3L366 1391.2L367 1387.9L368 1384.6L369 1381.3L370 1377.9L371.1 1374.5L372.2 1371L373.3 1367.5L374.4 1363.9L375.5 1360.3L376.6 1356.7L377.8 1353L378.9 1349.2L380.1 1345.5L381.3 1341.7L382.5 1337.8L383.8 1334L385.1 1330.1L386.4 1326.1L387.7 1322.2L389.1 1318.2L390.4 1314.1L391.9 1310.1L393.3 1306L394.8 1301.9L396.3 1297.8L397.9 1293.7L399.5 1289.5L401.1 1285.3L402.8 1281.1L404.5 1276.9L406.3 1272.7L408.1 1268.5L409.9 1264.2L411.8 1260L413.7 1255.7L415.7 1251.4L417.7 1247.1L419.8 1242.8L421.9 1238.5L424.1 1234.2L426.3 1229.9L428.6 1225.7L430.9 1221.4L433.3 1217.1L435.8 1212.8L438.3 1208.5L440.8 1204.3L443.4 1200L446.1 1195.8L448.8 1191.6L451.6 1187.3L454.5 1183.2L457.4 1179L460.4 1174.8L463.4 1170.7L466.6 1166.6L469.8 1162.5L473 1158.5L476.4 1154.5L479.8 1150.5L483.2 1146.6L486.8 1142.6L490.4 1138.8L494.1 1134.9L497.9 1131.2L501.8 1127.4L505.7 1123.7L509.7 1120L513.8 1116.4L518 1112.8L522.2 1109.3L526.4 1105.8L530.8 1102.3L535.2 1098.9L539.6 1095.6L544.1 1092.3L548.7 1089L553.3 1085.8L558 1082.6L562.7 1079.5L567.4 1076.4L572.2 1073.4L577.1 1070.4L581.9 1067.5L586.9 1064.6L591.8 1061.8L596.8 1059L601.9 1056.3L607 1053.6L612.1 1050.9L617.3 1048.3L622.5 1045.7L627.8 1043.2L633.1 1040.7L638.4 1038.2L643.7 1035.8L649.1 1033.4L654.6 1031.1L660 1028.8L665.5 1026.5L671.1 1024.2L676.6 1022L682.2 1019.9L687.9 1017.7L693.5 1015.6L699.2 1013.5L704.9 1011.5L710.7 1009.4L716.4 1007.4L722.2 1005.4L728.1 1003.5L733.9 1001.5L739.8 999.6L745.7 997.7L751.6 995.8L757.5 994L763.5 992.1L769.4 990.3L775.4 988.5L781.4 986.7L787.5 984.9L793.5 983.1L799.6 981.3L805.6 979.5L811.7 977.8L817.8 976L823.9 974.3L830.1 972.5L836.2 970.8L842.4 969.1L848.5 967.4L854.7 965.7L860.9 964L867.2 962.3L873.4 960.6L879.6 958.9L885.9 957.2L892.2 955.5L898.5 953.8L904.8 952.2L911.1 950.5L917.4 948.8L923.8 947.2L930.1 945.5L936.5 943.9L942.9 942.2L949.3 940.5L955.7 938.9L962.1 937.2L968.5 935.5L975 933.9L981.4 932.2L987.9 930.5L994.4 928.9L1000.9 927.2L1007.4 925.5L1013.9 923.8L1020.4 922.1L1026.9 920.4L1033.5 918.7L1040.1 917L1046.6 915.3L1053.2 913.6L1059.8 911.8L1066.4 910.1L1073 908.3L1079.6 906.5L1086.3 904.8L1092.9 903L1099.6 901.3L1106.2 899.6L1112.9 897.9L1119.6 896.3L1126.4 894.7L1133.1 893.2L1139.9 891.7L1146.7 890.4L1153.5 889.1L1160.4 888L1167.2 886.9L1174.2 886L1181.1 885.2L1193.7 891.9L1197.8 904.4L1202 921.1L1203.1 946.2L1205.2 967.1L1210.4 979.6L1210.8 1004.7L1215.6 1017.2L1216.6 1044.4L1220.8 1082L1222.5 1125.8"/>
<path stroke="#2a83c3" d="M355.7 1434.6L355.9 1422.3L356.2 1410L357.2 1397.6L358.4 1385.3L359.5 1373L360.6 1360.7L361.8 1348.3L363 1336L364.2 1323.7L365.3 1311.4L366.5 1299L367.7 1286.7L368.8 1274.4L369.8 1262.1L370.8 1249.7L371.7 1237.4L372.5 1225.1L373.3 1212.8L374.2 1200.4L375.3 1188.1L376.5 1175.8L377.9 1163.5L379.4 1151.1L380.9 1138.8L382.4 1126.5L383.9 1114.2L385.5 1101.8L387.1 1089.5L388.7 1077.2L390.4 1064.9L392 1052.5L393.6 1040.2L395.1 1027.9L396.6 1015.6L398.1 1003.3L399.6 990.9L401.1 978.6L402.6 966.3L404.2 954L405.8 941.6L407.4 929.3L409.1 917L410.7 904.7L412.4 892.3L414.1 880L415.9 867.7L417.6 855.4L419.4 843L421.2 830.7L423 818.4L424.8 806.1L426.6 793.7L428.5 781.4L430.5 769.1L432.6 756.8L434.8 744.4L437.2 732.1L439.7 719.8L442.3 707.5L445 695.1L447.8 682.8L450.5 670.5L453.2 658.2L455.8 645.8L458.4 633.5L460.9 621.2L463.5 608.9L466.1 596.6L468.8 584.2L471.5 571.9L474.3 559.6L477.1 547.3L479.9 534.9L482.8 522.6L485.8 510.3L488.8 498L491.9 485.6L495.1 473.3L498.4 461L501.8 448.7L505.4 436.3L509.1 424L512.9 411.7L516.8 399.4L521 387L525.4 374.7L529.8 362.4L534.4 350.1L539 337.7L543.8 325.4L548.8 313.1L553.9 300.8L559.3 288.4L564.9 276.1L570.8 263.8L577.4 251.5L584.5 239.1L591.5 226.8L598.6 214.5L598.6 219.5L598.6 700"/>
<path stroke="#2a83c3" d="M355.8 1434.6L355.9 1422.5L356.3 1410.4L357.3 1398.2L358.6 1386.1L359.7 1374L360.9 1361.9L362.2 1349.7L363.4 1337.6L364.7 1325.5L365.9 1313.4L367.1 1301.2L368.3 1289.1L369.5 1277L370.6 1264.9L371.6 1252.7L372.6 1240.6L373.4 1228.5L374.1 1216.4L374.9 1204.2L375.9 1192.1L377.1 1180L378.5 1167.9L380 1155.7L381.5 1143.6L383.1 1131.5L384.7 1119.4L386.3 1107.2L388.1 1095.1L389.9 1083L391.7 1070.9L393.5 1058.7L395.3 1046.6L396.9 1034.5L398.6 1022.4L400.2 1010.3L401.8 998.1L403.3 986L404.9 973.9L406.5 961.8L408.1 949.6L409.8 937.5L411.4 925.4L413 913.3L414.7 901.1L416.3 889L418 876.9L419.7 864.8L421.5 852.6L423.3 840.5L425.1 828.4L426.9 816.3L428.7 804.1L430.6 792L432.6 779.9L434.7 767.8L436.8 755.6L439.1 743.5L441.6 731.4L444.3 719.3L447 707.1L449.9 695L452.7 682.9L455.6 670.8L458.3 658.6L461 646.5L463.6 634.4L466.1 622.3L468.7 610.2L471.3 598L473.9 585.9L476.5 573.8L479.2 561.7L482 549.5L484.8 537.4L487.6 525.3L490.5 513.2L493.5 501L496.5 488.9L499.7 476.8L502.9 464.7L506.3 452.5L509.8 440.4L513.5 428.3L517.2 416.2L521.1 404L525.1 391.9L529.2 379.8L533.5 367.7L537.8 355.5L542.3 343.4L546.9 331.3L551.6 319.2L556.5 307L561.6 294.9L567 282.8L572.7 270.7L578.8 258.5L585.8 246.4L593 234.3L593 239.3L593 700"/>
</g>
<rect x="505.2" y="623.9" width="919.9" height="175.35" fill="#fff" stroke="#000" stroke-width="2.9"/>
<g fill="none" stroke-width="5.6">
<path stroke="#ff9a3e" stroke-width="5.3" stroke-dasharray="16 6" d="M525.3 668.3H585.3"/>
<path stroke="#2a83c3" stroke-dasharray="16 6" d="M525.3 754.7H585.3"/>
<path stroke="#ff9a3e" stroke-width="5.3" d="M986.8 668.3H1054"/>
<path stroke="#2a83c3" d="M986.8 754.7H1054"/>
</g>
<g font-family="'Liberation Serif', 'Times New Roman', serif" fill="#000">
<g font-size="64.7" filter="url(#ct)">
<text x="596.6" y="689.3" textLength="295.9" lengthAdjust="spacingAndGlyphs">K180 (CD)</text>
<text x="597.9" y="775.2" textLength="331.4" lengthAdjust="spacingAndGlyphs">SK180 (CD)</text>
<text x="1058.4" y="689.3" textLength="310.5" lengthAdjust="spacingAndGlyphs">K180 (MD)</text>
<text x="1059.3" y="775.2" textLength="347.3" lengthAdjust="spacingAndGlyphs">SK180 (MD)</text>
</g>
<g font-size="81" text-anchor="end">
<text x="288.3" y="1460.7">0</text>
<text x="288.3" y="1264.1">20</text>
<text x="288.3" y="1069.8">40</text>
<text x="288.3" y="875.2">60</text>
<text x="288.3" y="678.3">80</text>
<text x="288.3" y="484.1">100</text>
<text x="288.3" y="290.6">120</text>
<text x="288.3" y="96.3">140</text>
</g>
<g font-size="81" text-anchor="middle">
<text x="354.3" y="1556.0">0</text>
<text x="594" y="1556.0">2</text>
<text x="831.5" y="1556.0">4</text>
<text x="1071.5" y="1556.0">6</text>
<text x="1311.6" y="1556.0">8</text>
<text x="1550.6" y="1556.0">10</text>
</g>
<g font-size="102">
<text y="1677.2"><tspan x="578.8" textLength="430" lengthAdjust="spacingAndGlyphs">Elongation</tspan><tspan> </tspan><tspan x="1048.6" dy="5.6" font-size="104.7">[</tspan><tspan x="1081.3" dy="-5.6" textLength="155.5" lengthAdjust="spacingAndGlyphs">mm</tspan><tspan x="1236.3" dy="5.6" font-size="104.7">]</tspan></text>
<text transform="translate(114.8 0) rotate(-90)" y="0"><tspan x="-955.0" textLength="200.5" lengthAdjust="spacingAndGlyphs">Load</tspan><tspan> </tspan><tspan x="-720.2" dy="5.6" font-size="104.7">[</tspan><tspan x="-692.5" dy="-5.6" textLength="80.5" lengthAdjust="spacingAndGlyphs">N</tspan><tspan x="-616.2" dy="5.6" font-size="104.7">]</tspan></text>
</g>
</g>
</svg>
</body>
</html>
